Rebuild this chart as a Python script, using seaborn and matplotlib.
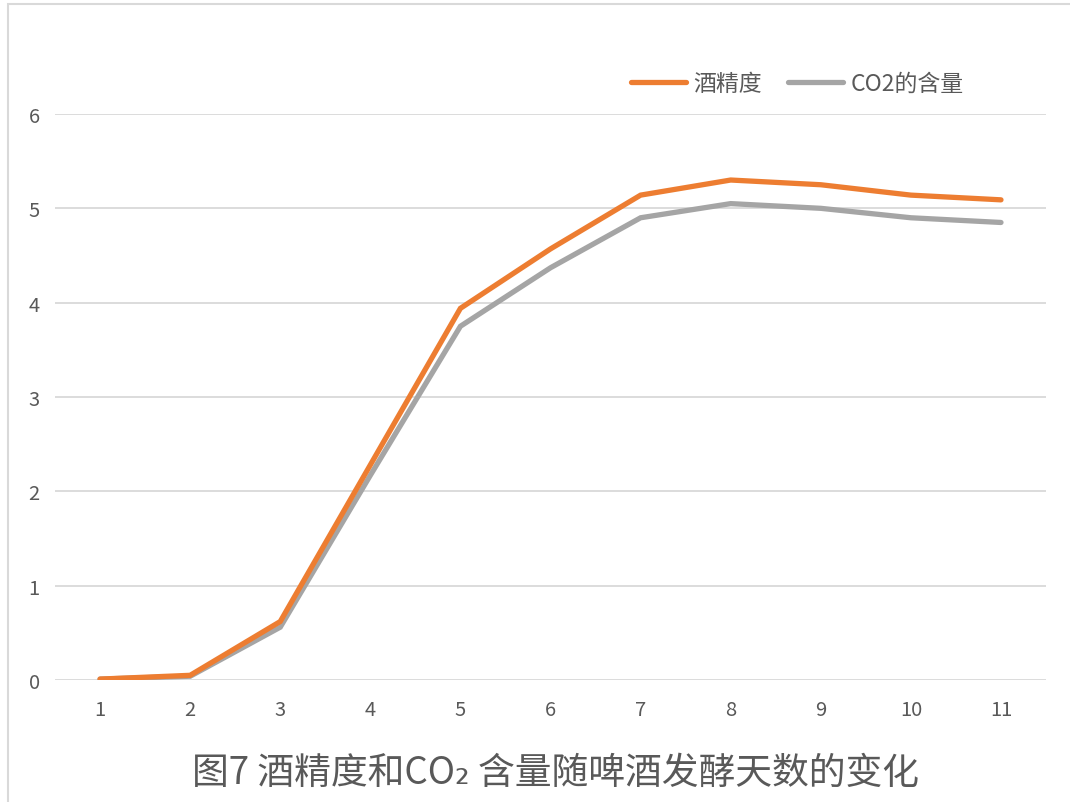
import matplotlib
matplotlib.use("Agg")
import matplotlib.pyplot as plt
import seaborn as sns
import pandas as pd
from matplotlib.patches import Rectangle
from matplotlib.lines import Line2D

days = [1, 2, 3, 4, 5, 6, 7, 8, 9, 10, 11]
alcohol = [0.01, 0.05, 0.62, 2.28, 3.94, 4.57, 5.14, 5.30, 5.25, 5.14, 5.09]
co2 = [0.01, 0.04, 0.56, 2.17, 3.75, 4.37, 4.90, 5.05, 5.00, 4.90, 4.85]
series_names = ["酒精度", "CO2的含量"]
y_ticks = [0, 1, 2, 3, 4, 5, 6]
title = "图7 酒精度和CO₂ 含量随啤酒发酵天数的变化"

sns.set_theme(style="white")
plt.rcParams["font.family"] = ["Noto Sans CJK SC", "DejaVu Sans"]

df = pd.DataFrame({
    "day": days * 2,
    "value": alcohol + co2,
    "series": [series_names[0]] * len(days) + [series_names[1]] * len(days),
})

fig = plt.figure(figsize=(10.70, 8.03), dpi=100)
ax = fig.add_axes([0.0514, 0.1519, 0.9262, 0.7049])

palette = {series_names[0]: "#ED7D31", series_names[1]: "#A5A5A5"}
sns.lineplot(data=df, x="day", y="value", hue="series", palette=palette,
             hue_order=[series_names[1], series_names[0]],
             linewidth=3.8, ax=ax, legend=False, sort=False)
for ln in ax.lines:
    ln.set_solid_capstyle("round")
    ln.set_solid_joinstyle("miter")

ax.set_xlim(0.5, 11.5)
ax.set_ylim(0, 6)
ax.set_xticks(days)
ax.set_yticks(y_ticks)
ax.set_xlabel("")
ax.set_ylabel("")
ax.grid(axis="y", color="#D9D9D9", linewidth=1.3)
ax.set_axisbelow(True)
for s in ax.spines.values():
    s.set_visible(False)
ax.tick_params(axis="both", length=0, labelsize=14.5, labelcolor="#595959")
ax.tick_params(axis="y", pad=11)
ax.tick_params(axis="x", pad=14)

# legend: orange first, gray second
handles = [Line2D([], [], color=palette[n], linewidth=3.8, solid_capstyle="round")
           for n in series_names]
fig.legend(handles, series_names, loc="center", bbox_to_anchor=(0.745, 0.895),
           ncol=2, frameon=False, fontsize=16.5, labelcolor="#595959",
           handlelength=2.4, handletextpad=0.35, columnspacing=1.1)

fig.text(0.519, 0.037, title, ha="center", va="center", fontsize=26.5,
         color="#595959")

# outer chart frame
fig.patches.append(Rectangle((8 / 1070, -0.05), 1.2, 1.05 - 5 / 803,
                             transform=fig.transFigure, fill=False,
                             edgecolor="#D9D9D9", linewidth=1.5))

fig.savefig("out.png", dpi=100, facecolor="white")
